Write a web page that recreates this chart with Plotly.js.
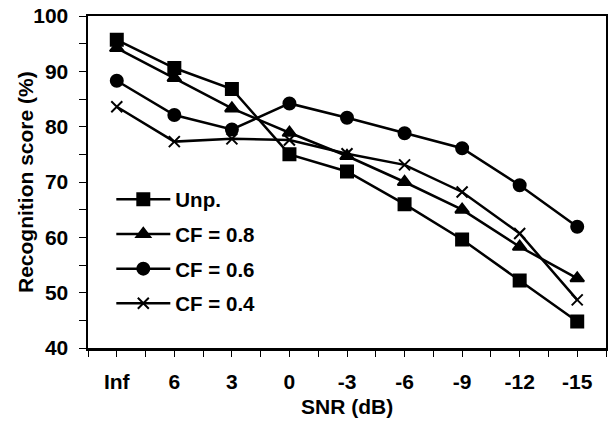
<!DOCTYPE html>
<html>
<head>
<meta charset="utf-8">
<script src="https://cdn.plot.ly/plotly-3.0.1.min.js"></script>
<style>html,body{margin:0;padding:0;background:#fff;}#chart{width:608px;height:421px;}</style>
</head>
<body>
<div id="chart"></div>
<script>
const categories = ["Inf", "6", "3", "0", "-3", "-6", "-9", "-12", "-15"];
const seriesNames = ["Unp.", "CF = 0.8", "CF = 0.6", "CF = 0.4"];
const unp   = [95.7, 90.6, 86.8, 75.0, 71.9, 66.0, 59.6, 52.2, 44.8];
const cf08  = [94.2, 88.8, 83.3, 78.9, 74.7, 70.0, 65.0, 58.3, 52.6];
const cf06  = [88.3, 82.1, 79.5, 84.2, 81.6, 78.8, 76.1, 69.4, 61.9];
const cf04  = [83.6, 77.3, 77.8, 77.6, 75.1, 73.1, 68.2, 60.7, 48.7];
const yTicks = [40, 50, 60, 70, 80, 90, 100];
const xTitle = "SNR (dB)";
const yTitle = "Recognition score (%)";

const xIdx = categories.map((c, i) => i);
const symbols = ["square", "triangle-up", "circle", "x-thin"];
const sizes = [12, 12, 12, 11];
const allSeries = [unp, cf08, cf06, cf04];

const traces = allSeries.map((vals, k) => ({
  x: xIdx,
  y: vals,
  name: seriesNames[k],
  legendgroup: "g" + k,
  type: "scatter",
  mode: "lines+markers",
  line: {color: "#000", width: 2.5},
  marker: {symbol: symbols[k], size: sizes[k], color: "#000", line: {color: "#000", width: 2}},
  hoverinfo: "skip"
}));

const fontBase = {family: "Liberation Sans, Arial, sans-serif", size: 21, color: "#000", weight: "bold"};
const fontLegend = {family: "Liberation Sans, Arial, sans-serif", size: 20.5, color: "#000", weight: "bold"};

const layout = {
  width: 608, height: 421,
  margin: {l: 88, r: 2, t: 16, b: 73},
  paper_bgcolor: "#fff", plot_bgcolor: "#fff",
  font: fontBase,
  showlegend: true,
  legend: {
    x: 0.045, y: 0.5075, xanchor: "left", yanchor: "top",
    bgcolor: "rgba(0,0,0,0)", borderwidth: 0,
    itemwidth: 54, tracegroupgap: 5,
    font: fontLegend
  },
  xaxis: {
    range: [-0.5, 8.5],
    tickmode: "array", tickvals: xIdx, ticktext: categories,
    ticks: "outside", ticklen: 6, tickwidth: 1, tickcolor: "#000",
    minor: {tickmode: "linear", tick0: -0.5, dtick: 0.5, ticks: "outside", ticklen: 6, tickwidth: 1, tickcolor: "#000"},
    showgrid: false, zeroline: false,
    showline: true, linecolor: "#000", linewidth: 2.5, mirror: true,
    ticklabelstandoff: 7,
    automargin: false
  },
  yaxis: {
    range: [40, 100],
    tickmode: "array", tickvals: yTicks,
    ticks: "outside", ticklen: 7, tickwidth: 1, tickcolor: "#000",
    minor: {tickmode: "linear", tick0: 40, dtick: 5, ticks: "outside", ticklen: 7, tickwidth: 1, tickcolor: "#000"},
    showgrid: false, zeroline: false,
    showline: true, linecolor: "#000", linewidth: 2.5, mirror: true,
    ticklabelstandoff: 6,
    automargin: false
  },
  annotations: [
    {text: xTitle, xref: "paper", yref: "paper", x: 0.5, y: -0.1777, xanchor: "center", yanchor: "middle", showarrow: false, font: fontBase},
    {text: yTitle, xref: "paper", yref: "paper", x: -0.1216, y: 0.5, xanchor: "center", yanchor: "middle", textangle: -90, showarrow: false, font: fontBase}
  ]
};

Plotly.newPlot("chart", traces, layout, {displayModeBar: false, staticPlot: true});
</script>
</body>
</html>
